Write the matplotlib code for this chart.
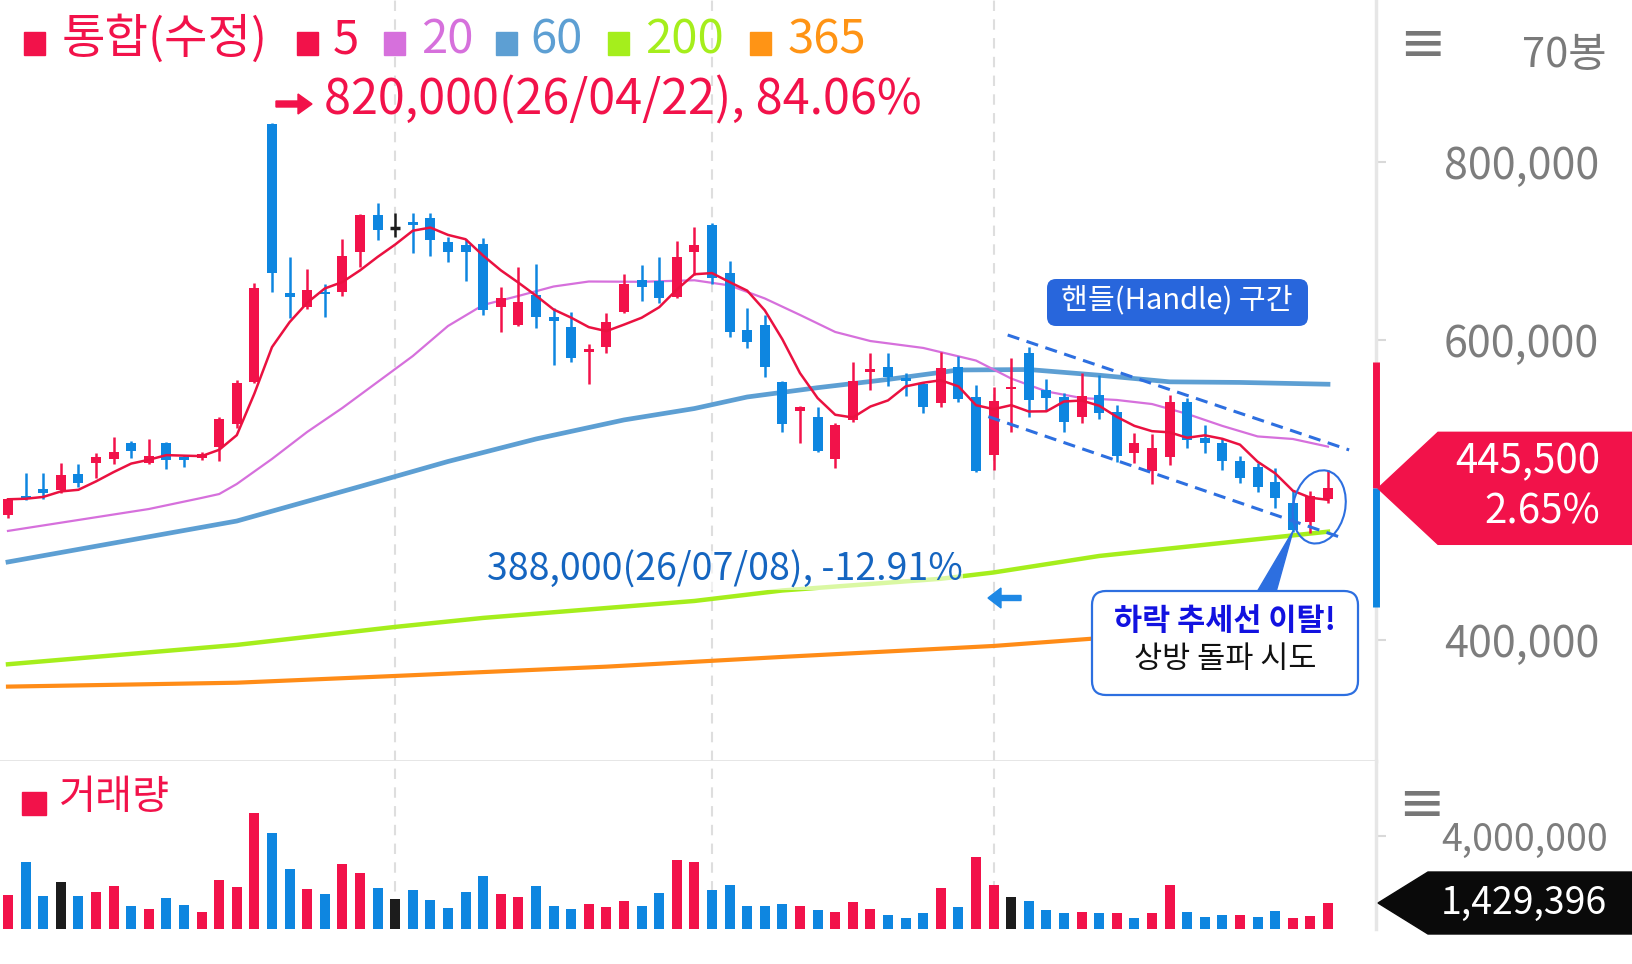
import numpy as np
import pandas as pd
import matplotlib
matplotlib.use("Agg")
import matplotlib.pyplot as plt
from matplotlib.patches import Polygon, FancyBboxPatch, Ellipse, Rectangle, FancyArrow
from matplotlib.transforms import IdentityTransform, ScaledTranslation
from matplotlib.ticker import FuncFormatter

plt.rcParams['font.family'] = ['Noto Sans CJK KR', 'DejaVu Sans']

# daily candles, 76 sessions (KRW)
open_ = [483300, 496000, 500500, 500000, 510700, 518200, 520500, 531100, 518200, 531100,
         522200, 521100, 528500, 544000, 572200, 842300, 653100, 637400, 654200, 653500,
         699100, 740200, 725700, 732700, 736500, 710300, 706600, 707700, 637400, 616800,
         650500, 626200, 614300, 592200, 595500, 631800, 667300, 666200, 647900, 699100,
         729000, 675500, 611200, 616800, 572200, 552900, 548500, 520500, 546700, 578500,
         582200, 574500, 570700, 558200, 582200, 561800, 523300, 567100, 591500, 566700,
         561800, 548500, 563300, 552200, 524500, 512900, 522200, 558900, 534500, 531100,
         519500, 515500, 505500, 491500, 478900, 493800]
close = [493800, 494500, 497800, 510000, 504500, 521800, 525500, 526200, 522700, 520000,
         520000, 524000, 547300, 571500, 658700, 674800, 647900, 656100, 651600, 694600,
         740200, 723400, 725700, 729000, 712200, 699100, 699100, 633700, 646800, 643000,
         626200, 621300, 587800, 593800, 620500, 662800, 659800, 646800, 692800, 706600,
         669200, 609300, 598900, 582200, 544000, 555100, 526200, 543300, 572900, 580700,
         575500, 572900, 555500, 581100, 560500, 512700, 559500, 568900, 560000, 561100,
         545500, 562700, 551500, 522900, 531100, 527800, 558900, 533300, 531100, 519500,
         508200, 502200, 494500, 473300, 496000, 501100]
high = [494500, 511100, 511100, 518200, 517300, 524500, 535100, 532900, 533800, 532200,
        523300, 525100, 548900, 573300, 663600, 843800, 693500, 679700, 662800, 713000,
        741400, 754000, 742100, 742100, 742100, 715200, 713000, 714100, 659100, 681600,
        685300, 635600, 631800, 597100, 630000, 674100, 684100, 693500, 711100, 727100,
        730900, 688600, 635600, 628100, 572900, 556000, 555100, 544900, 585500, 591500,
        591500, 577800, 572200, 592200, 589300, 570000, 568900, 587800, 595500, 573800,
        564900, 577800, 576700, 556700, 537800, 537300, 563300, 561100, 543300, 534500,
        522700, 518200, 514500, 500000, 499500, 513300]
low = [481100, 493300, 493800, 497800, 502200, 507800, 517300, 521100, 517300, 513800,
       515500, 520000, 519500, 541100, 571500, 653500, 624400, 634500, 626200, 649400,
       682200, 712200, 715900, 697300, 694200, 687900, 666500, 628100, 609300, 615700,
       613100, 583300, 585500, 570700, 591100, 630600, 644100, 641200, 646800, 672900,
       662800, 603700, 594500, 575500, 538900, 531100, 525500, 514500, 545500, 566700,
       569300, 562700, 551500, 555500, 558900, 512200, 513300, 538900, 548900, 552700,
       538900, 544900, 547100, 518900, 517800, 504000, 516700, 527800, 524500, 513300,
       504500, 498900, 487800, 472200, 471100, 491100]
volume = [1443000, 2871000, 1400000, 2014000, 1429000, 1571000, 1829000, 971000, 843000, 1343000,
          1014000, 714000, 2086000, 1800000, 4971000, 4114000, 2571000, 1714000, 1514000, 2771000,
          2400000, 1757000, 1300000, 1657000, 1229000, 900000, 1586000, 2271000, 1500000, 1357000,
          1843000, 1000000, 843000, 1071000, 929000, 1200000, 986000, 1557000, 2971000, 2886000,
          1657000, 1900000, 986000, 986000, 1086000, 971000, 814000, 729000, 1157000, 843000,
          600000, 471000, 700000, 1743000, 929000, 3100000, 1886000, 1357000, 1200000, 814000,
          700000, 729000, 700000, 671000, 457000, 671000, 1886000, 729000, 529000, 600000,
          614000, 500000, 757000, 457000, 543000, 1114000]
# u = up day, d = down day, f = unchanged
vol_side = list("uddfduudud" "duuuuddudu" "udfddddduu" "ddduuudduu"
                "ddddduduuu" "ddduduufdd" "dududuuddd" "udduuu")

# moving averages (session index, price)
ma20_idx = [0, 4, 8, 11, 12, 13, 15, 17, 19, 21, 23, 25, 27, 29, 31, 33, 36, 39, 41, 43,
            45, 47, 49, 52, 55, 57, 59, 61, 63, 65, 67, 69, 71, 73, 75]
ma20 = [472700, 480000, 487300, 494700, 497300, 504000, 520700, 538700, 554700, 572000,
        589300, 615700, 639300, 649400, 660000, 665600, 665300, 667000, 661200, 646600,
        628100, 609000, 599300, 594700, 586300, 574300, 565700, 561300, 560000, 557300,
        550700, 542700, 535700, 534000, 528900]
ma60_idx = [0, 13, 20, 25, 30, 35, 39, 42, 46, 50, 54, 58, 62, 66, 70, 75]
ma60 = [452000, 479300, 502300, 519000, 534000, 546700, 554300, 562000, 568200, 573700,
        580000, 580300, 576500, 572100, 571700, 570500]
ma200_idx = [0, 13, 22, 27, 34, 39, 44, 53, 56, 62, 75]
ma200 = [383800, 396700, 408700, 414700, 421300, 426000, 433000, 440800, 445000, 456000, 472200]
ma365_idx = [0, 13, 22, 34, 44, 56, 62, 75]
ma365 = [368900, 371500, 376000, 382200, 388700, 396000, 401200, 412300]

month_lines = [22, 40, 56]
trend_hi_x, trend_hi_y = [56.8, 76.2], [605600, 526700]
trend_lo_x, trend_lo_y = [55.7, 75.7], [548900, 468500]
break_x, break_y = 74.5, 488700
band_top, band_bottom = 585500, 422200
price_ticks = [400000, 600000, 800000]
vol_ticks = [4000000]

UP = '#f2124a'
DOWN = '#0e86e0'
FLAT = '#1c1c1c'
C20, C60, C200, C365 = '#d670dc', '#5d9fd3', '#a5ee1c', '#ff8c17'
BOXBLUE = '#2d6fe0'

W, H = 1632, 964
fig = plt.figure(figsize=(W / 100, H / 100), dpi=100)
ax = fig.add_axes([0, 1 - 761 / H, 1376 / W, 761 / H])
axv = fig.add_axes([0, 35 / H, 1376 / W, 168 / H])

# the price axis of the source is not evenly spaced; follow its tick positions
knot_v = [0, 400000, 600000, 800000, 2000000]
knot_p = [-600, 0, 300, 478.3, 1548.1]
ax.set_yscale('function', functions=(lambda v: np.interp(v, knot_v, knot_p),
                                     lambda p: np.interp(p, knot_p, knot_v)))

x = np.arange(len(close))
o, h, l, c = map(np.array, (open_, high, low, close))
col = np.where(c > o, UP, np.where(c < o, DOWN, FLAT))

ax.plot(ma365_idx, ma365, color=C365, lw=3.0, zorder=2)
ax.plot(ma200_idx, ma200, color=C200, lw=3.2, zorder=2)
ax.plot(ma60_idx, ma60, color=C60, lw=3.4, zorder=2)
ax.plot(ma20_idx, ma20, color=C20, lw=1.6, zorder=2)

ax.vlines(x, l, h, colors=col, lw=1.8, zorder=3)
ax.bar(x, c - o, bottom=o, width=0.56, color=col, zorder=3)
flat = c == o
ax.hlines(o[flat], x[flat] - 0.28, x[flat] + 0.28, colors=FLAT, lw=2.5, zorder=3)

ma5 = pd.Series(c).rolling(5, min_periods=1).mean()
ax.plot(x, ma5, color='#ea1140', lw=1.8, zorder=4)

ax.plot(trend_hi_x, trend_hi_y, color=BOXBLUE, lw=2.2, ls=(0, (4, 2.5)), zorder=5)
ax.plot(trend_lo_x, trend_lo_y, color=BOXBLUE, lw=2.2, ls=(0, (4, 2.5)), zorder=5)

xmin, xmax = -8 / 17.6, 1368 / 17.6
for a in (ax, axv):
    for m in month_lines:
        a.axvline(m, color='#dedede', lw=1.5, ls=(0, (5, 4)), zorder=0)
    a.set_xlim(xmin, xmax)
    a.set_xticks([])
    for s in ('top', 'left'):
        a.spines[s].set_visible(False)
    a.spines['right'].set_color('#e6e6e6')
    a.spines['right'].set_linewidth(2.5)
    a.yaxis.tick_right()
    a.tick_params(axis='y', length=7, width=1.5, color='#d9d9d9', labelcolor='#7d7d7d')
    a.yaxis.set_major_formatter(FuncFormatter(lambda v, p: f'{v:,.0f}'))

ax.spines['bottom'].set_color('#e4e4e4')
ax.spines['bottom'].set_linewidth(2)
axv.spines['bottom'].set_visible(False)
ax.set_ylim(319300, 981400)
ax.set_yticks(price_ticks)
ax.tick_params(axis='y', labelsize=31, pad=42)

vcol = [{'u': UP, 'd': DOWN, 'f': FLAT}[s] for s in vol_side]
axv.bar(x, volume, width=0.56, color=vcol, zorder=3)
axv.set_ylim(0, 7.2e6)
axv.set_yticks(vol_ticks)
axv.tick_params(axis='y', labelsize=27, pad=40)

# range bar on the price axis
ax.plot([xmax, xmax], [band_top, c[-1]], color=UP, lw=5, solid_capstyle='butt',
        clip_on=False, zorder=6)
ax.plot([xmax, xmax], [c[-1], band_bottom], color=DOWN, lw=5, solid_capstyle='butt',
        clip_on=False, zorder=6)


def px(xp, yp):
    return xp / W, 1 - yp / H


# legend row
leg_lab = ['통합(수정)', '5', '20', '60', '200', '365']
leg_col = [UP, UP, C20, C60, C200, '#ff9415']
leg_sq = [24, 297, 384, 496, 608, 750]
leg_tx = [62, 333, 421, 530, 645, 788]
for lab, cc, sq, tx in zip(leg_lab, leg_col, leg_sq, leg_tx):
    fig.add_artist(Rectangle(px(sq, 55), 21 / W, 23 / H, color=cc, transform=fig.transFigure))
    fig.text(*px(tx, 40), lab, color=cc, fontsize=34, va='center')

# pointer arrows beside the high / low notes
fig.add_artist(FancyArrow(276, H - 104, 36, 0, width=6, head_width=20, head_length=14,
                          length_includes_head=True, color=UP, transform=IdentityTransform()))
fig.text(*px(324, 101), '820,000(26/04/22), 84.06%', color=UP, fontsize=35, va='center')

fig.text(*px(487, 570), '388,000(26/07/08), -12.91%', color='#1565c0', fontsize=27,
         va='center', zorder=4,
         bbox=dict(facecolor='white', alpha=0.6, edgecolor='none', pad=0))
fig.add_artist(FancyArrow(1021, H - 598, -33, 0, width=5, head_width=20, head_length=13,
                          length_includes_head=True, color='#1e88e5',
                          transform=IdentityTransform()))

# "handle" tag
fig.add_artist(FancyBboxPatch((1047, H - 326), 261, 47, boxstyle='round,pad=0,rounding_size=9',
                              transform=IdentityTransform(), fc='#2866dc', ec='none', zorder=5))
fig.text(*px(1177, 300), '핸들(Handle) 구간', color='white', fontsize=21, ha='center',
         va='center', zorder=6)

# breakout circle and callout
fig.add_artist(Ellipse((0, 0), 0.52, 0.74, angle=-12, fill=False, ec=BOXBLUE, lw=1.5,
                       transform=fig.dpi_scale_trans + ScaledTranslation(break_x, break_y, ax.transData),
                       zorder=5))
fig.add_artist(Polygon([(1293, H - 531), (1257, H - 592), (1276, H - 592)], closed=True,
                       transform=IdentityTransform(), color=BOXBLUE, zorder=5))
fig.add_artist(FancyBboxPatch((1092, H - 695), 266, 104, boxstyle='round,pad=0,rounding_size=14',
                              transform=IdentityTransform(), fc='white', ec=BOXBLUE, lw=1.6,
                              zorder=5))
fig.text(*px(1225, 621), '하락 추세선 이탈!', color='#1212e0', fontsize=22, fontweight='bold',
         ha='center', va='center', zorder=6)
fig.text(*px(1225, 660), '상방 돌파 시도', color='#111111', fontsize=22, ha='center',
         va='center', zorder=6)

# right side labels
fig.text(*px(1422, 46), '≡', color='#777777', fontsize=40, ha='center', va='center',
         family='DejaVu Sans')
fig.text(*px(1607, 55), '70봉', color='#7a7a7a', fontsize=30, ha='right', va='center')
fig.text(*px(1421, 806), '≡', color='#777777', fontsize=40, ha='center', va='center',
         family='DejaVu Sans')

# volume legend
fig.add_artist(Rectangle(px(22, 815), 24 / W, 23 / H, color=UP, transform=fig.transFigure))
fig.text(*px(59, 797), '거래량', color=UP, fontsize=29, va='center')

# last price tag
yd = ax.transData.transform((0, c[-1]))[1]
fig.add_artist(Polygon([(1378, yd), (1438, yd + 56), (W, yd + 56), (W, yd - 56), (1438, yd - 56)],
                       closed=True, transform=IdentityTransform(), color=UP, zorder=5))
fig.text(1600 / W, (yd + 27) / H, '445,500', color='white', fontsize=29, ha='right',
         va='center', zorder=6)
fig.text(1600 / W, (yd - 24) / H, '2.65%', color='white', fontsize=29, ha='right',
         va='center', zorder=6)

# last volume tag
yv = axv.transData.transform((0, volume[-1]))[1]
fig.add_artist(Polygon([(1378, yv), (1428, yv + 31), (W, yv + 31), (W, yv - 31), (1428, yv - 31)],
                       closed=True, transform=IdentityTransform(), color='#0a0a0a', zorder=5))
fig.text(1607 / W, yv / H, '1,429,396', color='white', fontsize=27, ha='right', va='center',
         zorder=6)

fig.savefig('out.png', dpi=100, facecolor='white')
